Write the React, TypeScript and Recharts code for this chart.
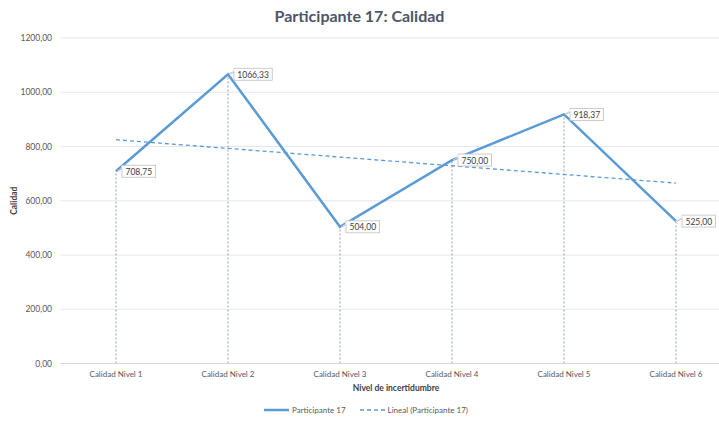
import React from 'react';
import {
  ComposedChart,
  Line,
  XAxis,
  YAxis,
  CartesianGrid,
  ReferenceLine,
  LabelList,
  Legend,
} from 'recharts';

const categories = [
  'Calidad Nivel 1',
  'Calidad Nivel 2',
  'Calidad Nivel 3',
  'Calidad Nivel 4',
  'Calidad Nivel 5',
  'Calidad Nivel 6',
];
const participante = [708.75, 1066.33, 504, 750, 918.37, 525];
// trend line (start and end only)
const lineal = [825, null, null, null, null, 665];
const yTicks = [0, 200, 400, 600, 800, 1000, 1200];
const edgeTicks = [0, 1, 2, 3, 4, 5, 6];

const data = categories.map((name, i) => ({
  name,
  value: participante[i],
  trend: lineal[i],
}));

const FONT = 'Lato, "Open Sans", sans-serif';
const BLUE = '#5B9BD5';

const fmt = (v: number) => v.toFixed(2).replace('.', ',');

const DataLabel = (props: any) => {
  const { x, y, value } = props;
  if (x == null || y == null) return null;
  const text = fmt(Number(value));
  const w = text.length * 4.6 + 6;
  const bx = x + 6;
  const by = y - 6;
  return (
    <g>
      <path
        d={`M${bx},${by + 4} L${x + 1},${y} L${bx + 4},${by}`}
        fill="#fff"
        stroke="#bfbfbf"
        strokeWidth={0.8}
      />
      <rect x={bx} y={by} width={w} height={12} fill="#fff" stroke="#bfbfbf" strokeWidth={0.8} />
      <line x1={bx} y1={by + 0.6} x2={bx} y2={by + 3.6} stroke="#fff" strokeWidth={1} />
      <text
        x={bx + w / 2}
        y={by + 6.5}
        textAnchor="middle"
        dominantBaseline="central"
        fontSize={8.5}
        fontFamily={FONT}
        fill="#404040"
      >
        {text}
      </text>
    </g>
  );
};

const LegendContent = (props: any) => {
  const items = (props.payload || []) as any[];
  return (
    <div
      style={{
        display: 'flex',
        justifyContent: 'center',
        alignItems: 'center',
        height: 16,
        fontFamily: FONT,
        fontSize: 8,
        color: '#595959',
      }}
    >
      {items.map((it) => (
        <div key={it.value} style={{ display: 'flex', alignItems: 'center', margin: '0 7px' }}>
          <svg width={25} height={6} style={{ marginRight: 3 }}>
            <line
              x1={0}
              y1={3}
              x2={25}
              y2={3}
              stroke={it.color}
              strokeWidth={it.payload?.strokeDasharray ? 1.3 : 2.5}
              strokeDasharray={it.payload?.strokeDasharray}
            />
          </svg>
          <span>{it.value}</span>
        </div>
      ))}
    </div>
  );
};

export default function App() {
  return (
    <div
      style={{
        position: 'fixed',
        left: 0,
        top: 0,
        width: 719,
        height: 422,
        overflow: 'hidden',
        background: '#fff',
      }}
    >
      <div
        style={{
          position: 'absolute',
          top: 6,
          left: 0,
          width: 719,
          textAlign: 'center',
          fontFamily: FONT,
          fontWeight: 700,
          fontSize: 16,
          color: '#4d5666',
          zIndex: 2,
        }}
      >
        Participante 17: Calidad
      </div>
      <ComposedChart
        width={740}
        height={422}
        data={data}
        margin={{ top: 38, right: 8, bottom: 4, left: 0 }}
      >
        <CartesianGrid vertical={false} stroke="#e4e8ee" strokeWidth={1} />
        <XAxis
          xAxisId="edge"
          type="number"
          domain={[0, 6]}
          ticks={edgeTicks}
          height={0}
          axisLine={false}
          tickSize={3}
          tickLine={{ stroke: '#d9d9d9' }}
          tickFormatter={() => ''}
        />
        <XAxis
          dataKey="name"
          height={38.5}
          padding={{ left: 56, right: 56 }}
          tickLine={false}
          axisLine={{ stroke: '#d9d9d9' }}
          tickMargin={2}
          tick={{ fontSize: 8, fontFamily: FONT, fill: '#595959' }}
          interval={0}
          label={{
            value: 'Nivel de incertidumbre',
            position: 'insideBottom',
            offset: 11,
            fontSize: 8.5,
            fontWeight: 700,
            fontFamily: FONT,
            fill: '#404040',
          }}
        />
        <YAxis
          width={60}
          domain={[0, 1200]}
          ticks={yTicks}
          axisLine={false}
          tickLine={false}
          tickFormatter={fmt}
          tick={{ fontSize: 8.5, fontFamily: FONT, fill: '#595959' }}
          label={{
            value: 'Calidad',
            content: ({ viewBox }: any) => {
              const cy = viewBox.y + viewBox.height / 2;
              return (
                <text
                  x={14}
                  y={cy}
                  transform={`rotate(-90, 14, ${cy})`}
                  textAnchor="middle"
                  dominantBaseline="central"
                  fontSize={8.5}
                  fontWeight={700}
                  fontFamily={FONT}
                  fill="#404040"
                >
                  Calidad
                </text>
              );
            },
          }}
        />
        {categories.map((c, i) => (
          <ReferenceLine
            key={c}
            segment={[
              { x: c, y: 0 },
              { x: c, y: participante[i] },
            ]}
            stroke="#8d9ab0"
            strokeDasharray="2 2"
            strokeWidth={1}
          />
        ))}
        <Line
          dataKey="trend"
          name="Lineal (Participante 17)"
          stroke={BLUE}
          strokeWidth={1.3}
          strokeDasharray="4 3"
          connectNulls
          dot={false}
          activeDot={false}
          isAnimationActive={false}
        />
        <Line
          dataKey="value"
          name="Participante 17"
          stroke={BLUE}
          strokeWidth={2.5}
          dot={false}
          activeDot={false}
          isAnimationActive={false}
        >
          <LabelList dataKey="value" content={DataLabel} />
        </Line>
        <Legend
          verticalAlign="bottom"
          content={LegendContent}
          itemSorter={(item: any) => (item.dataKey === 'value' ? 0 : 1)}
        />
      </ComposedChart>
    </div>
  );
}
